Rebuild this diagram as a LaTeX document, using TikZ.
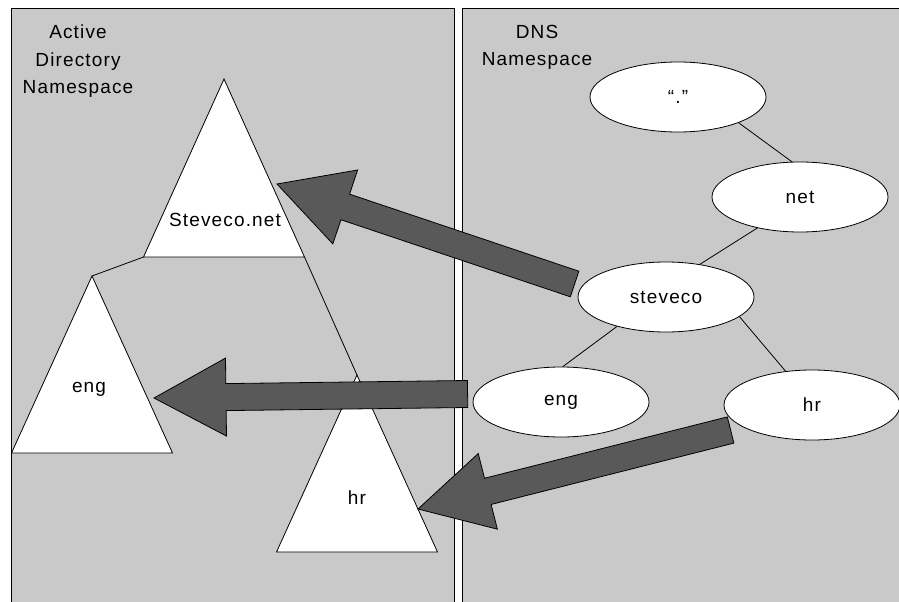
\documentclass[tikz,border=0pt]{standalone}
\usepackage{fontspec}
\setmainfont{Liberation Sans}[LetterSpace=6]
\usetikzlibrary{shapes.geometric,calc}

\definecolor{panelgray}{HTML}{C9C9C9}
\definecolor{arrowgray}{HTML}{595959}

\tikzset{
  panel/.style={draw=black, line width=0.8pt, fill=panelgray},
  tri/.style={draw=black, line width=0.8pt, fill=white},
  dnsnode/.style={ellipse, draw=black, line width=0.8pt, fill=white,
    minimum width=176pt, minimum height=70pt, inner sep=0pt,
    font=\fontsize{19}{27.5}\selectfont},
  lbl/.style={inner sep=0pt, font=\fontsize{19}{27.5}\selectfont},
  treeline/.style={draw=black, line width=0.8pt},
  fatarrow/.style={draw=black, line width=0.8pt, fill=arrowgray, line join=miter}
}

% block arrow from #1 (tail) to #2 (tip)
\newcommand{\fatarrow}[2]{%
  \path ($(#2)!72pt!(#1)$) coordinate (fa-base);
  \draw[fatarrow] ($(#1)!13.5pt!90:(#2)$) -- ($(fa-base)!13.5pt!90:(#2)$)
    -- ($(fa-base)!39pt!90:(#2)$) -- (#2)
    -- ($(fa-base)!39pt!-90:(#2)$) -- ($(fa-base)!13.5pt!-90:(#2)$)
    -- ($(#1)!13.5pt!-90:(#2)$) -- cycle;
}

\begin{document}
\begin{tikzpicture}[x=1pt, y=-1pt]
  \useasboundingbox (0,0) rectangle (899,602);
  \clip (0,0) rectangle (899,602);

  % Panels
  \draw[panel] (11,8) rectangle (454,620);
  \draw[panel] (462,8) rectangle (920,620);
  \node[lbl, anchor=north, align=center] (adtitle) at (78,25) {Active\\Directory\\Namespace};
  \node[lbl, anchor=north, align=center] (dnstitle) at (537,25) {DNS\\Namespace};

  % Active Directory trees
  \draw[tri] (224,79) coordinate (adsteveco) -- ++(-80.5,178) coordinate (adsteveco-l)
    -- ++(161,0) coordinate (adsteveco-r) -- cycle;
  \draw[tri] (92,276) coordinate (adeng) -- ++(-80.5,177) -- ++(161,0) -- cycle;
  \draw[tri] (357,375) coordinate (adhr) -- ++(-80.5,177) -- ++(161,0) -- cycle;
  \draw[treeline] (adsteveco-l) -- (adeng);
  \draw[treeline] (adsteveco-r) -- (adhr);
  \node[lbl, anchor=base] (adsteveco-lbl) at (225,226) {Steveco.net};
  \node[lbl, anchor=base] (adeng-lbl) at (89,392) {eng};
  \node[lbl, anchor=base] (adhr-lbl) at (357,504) {hr};

  % DNS tree
  \node[dnsnode] (root) at (678,97) {“.”};
  \node[dnsnode] (net) at (800,197) {net};
  \node[dnsnode] (steveco) at (666,297) {steveco};
  \node[dnsnode] (eng) at (561,402) {eng};
  \node[dnsnode] (hr) at (812,405) {hr};
  \draw[treeline] (root.-23) -- (net.103);
  \draw[treeline] (net.216) -- (steveco.44);
  \draw[treeline] (steveco.211) -- (eng.87);
  \draw[treeline] (steveco.-15) -- (hr.128);

  % Mapping arrows
  \coordinate (tail1) at ($(steveco.west)+(-3,-13)$);
  \coordinate (tip1) at (277,184);
  \coordinate (tail2) at ($(eng.west)+(-5,-8)$);
  \coordinate (tip2) at (154,398);
  \coordinate (tail3) at ($(hr.west)+(7,25)$);
  \coordinate (tip3) at (418,509);
  \fatarrow{tail1}{tip1}
  \fatarrow{tail2}{tip2}
  \fatarrow{tail3}{tip3}
\end{tikzpicture}
\end{document}
